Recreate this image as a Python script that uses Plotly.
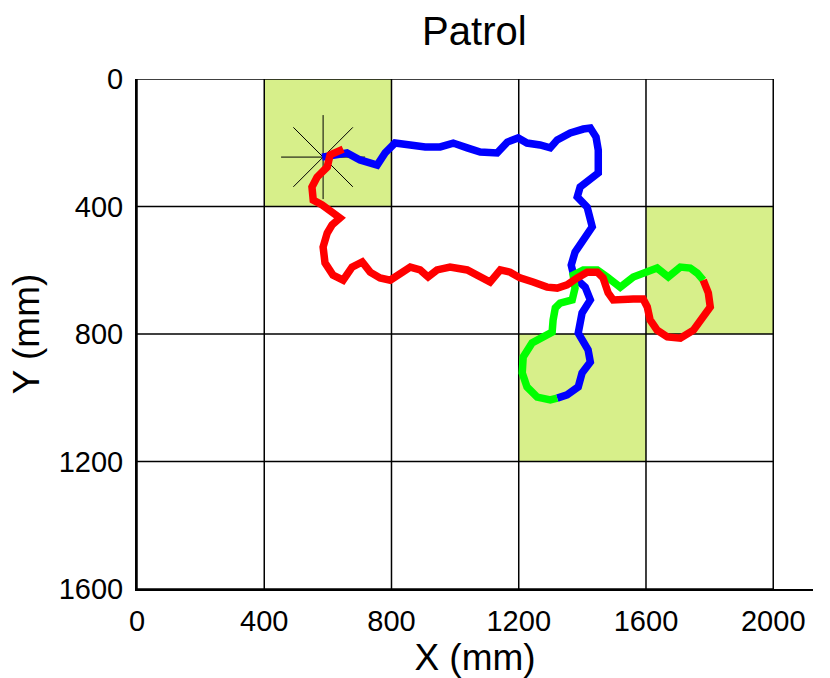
import plotly.graph_objects as go

# ---- data (mm) ----
grid_ticks_x = [0, 400, 800, 1200, 1600, 2000]
grid_ticks_y = [0, 400, 800, 1200, 1600]
tick_labels_x = ["0", "400", "800", "1200", "1600", "2000"]
tick_labels_y = ["0", "400", "800", "1200", "1600"]

# highlighted cells: (x0, x1, y0, y1)
cells_x0 = [400, 1600, 1200]
cells_x1 = [800, 2000, 1600]
cells_y0 = [0, 400, 800]
cells_y1 = [400, 800, 1200]

star_x = [585]
star_y = [245]

blue_x = [582, 623, 660, 701, 733, 755, 780, 811, 859, 906, 953, 994, 1038, 1079, 1132, 1164, 1198,
          1226, 1267, 1299, 1321, 1362, 1403, 1425, 1443, 1450, 1450, 1425, 1393, 1384, 1415, 1431,
          1403, 1377, 1365, 1374, 1409, 1425, 1399, 1387, 1418, 1425, 1399, 1387, 1352, 1321]
blue_y = [245, 235, 232, 254, 264, 270, 232, 201, 207, 213, 213, 201, 216, 229, 232, 198, 185,
          201, 207, 216, 191, 169, 157, 154, 182, 223, 295, 317, 339, 370, 402, 464,
          505, 543, 584, 621, 653, 693, 734, 797, 850, 888, 922, 966, 991, 1001]

green_x = [1321, 1299, 1258, 1226, 1211, 1214, 1242, 1277, 1305, 1308, 1315, 1330, 1368, 1377, 1371,
           1403, 1447, 1478, 1519, 1560, 1598, 1635, 1670, 1708, 1739, 1761, 1780]
green_y = [1001, 1007, 998, 966, 922, 872, 828, 809, 794, 756, 718, 703, 693, 656, 615,
           599, 599, 621, 653, 621, 606, 593, 621, 590, 593, 609, 631]

red_x = [1780, 1796, 1802, 1777, 1749, 1708, 1667, 1635, 1613, 1604, 1591, 1560, 1519, 1497, 1481,
         1465, 1447, 1415, 1384, 1352, 1321, 1289, 1245, 1204, 1173, 1142, 1110, 1079, 1038, 984,
         943, 915, 890, 859, 827, 796, 764, 733, 708, 676, 648, 616, 591, 585, 598, 613, 638,
         616, 582, 554, 550, 566, 598, 607, 629, 648]
red_y = [631, 671, 715, 747, 788, 813, 809, 788, 756, 715, 690, 690, 693, 693, 671,
         624, 606, 606, 624, 646, 656, 653, 637, 624, 606, 599, 637, 621, 599, 590,
         599, 621, 599, 590, 609, 631, 624, 606, 574, 590, 631, 615, 577, 527, 483, 458, 436,
         417, 395, 380, 339, 308, 276, 238, 229, 220]

FONT = "Liberation Sans, Arial, Helvetica, sans-serif"
CELL_COLOR = "#d7ef8a"

fig = go.Figure()

shapes = []
for x0, x1, y0, y1 in zip(cells_x0, cells_x1, cells_y0, cells_y1):
    shapes.append(dict(type="rect", xref="x", yref="y", x0=x0, x1=x1, y0=y0, y1=y1,
                       fillcolor=CELL_COLOR, line=dict(width=0), layer="below"))
for gx in grid_ticks_x:
    shapes.append(dict(type="line", xref="x", yref="y", x0=gx, x1=gx,
                       y0=grid_ticks_y[0], y1=grid_ticks_y[-1],
                       line=dict(color="black", width=1.5), layer="below"))
for gy in grid_ticks_y:
    shapes.append(dict(type="line", xref="x", yref="y", x0=grid_ticks_x[0], x1=grid_ticks_x[-1],
                       y0=gy, y1=gy, line=dict(color="black", width=1.5), layer="below"))

fig.add_trace(go.Scatter(x=star_x, y=star_y, mode="markers",
                         marker=dict(symbol="asterisk-open", size=70, color="black",
                                     line=dict(color="black", width=1)),
                         hoverinfo="skip"))
fig.add_trace(go.Scatter(x=blue_x, y=blue_y, mode="lines",
                         line=dict(color="#0000ff", width=7.5)))
fig.add_trace(go.Scatter(x=green_x, y=green_y, mode="lines",
                         line=dict(color="#00ff00", width=7.5)))
fig.add_trace(go.Scatter(x=red_x, y=red_y, mode="lines",
                         line=dict(color="#ff0000", width=7.5)))

fig.update_layout(
    width=830, height=678, autosize=False,
    margin=dict(l=137, r=17, t=79, b=89, autoexpand=False),
    paper_bgcolor="white", plot_bgcolor="white",
    showlegend=False,
    shapes=shapes,
    title=dict(text="Patrol", x=0.5715, xanchor="center", y=0.955, yanchor="middle",
               font=dict(family=FONT, size=40, color="black")),
    font=dict(family=FONT, color="black"),
)
fig.update_xaxes(range=[0, 2125], tickvals=grid_ticks_x, ticktext=tick_labels_x,
                 showgrid=False, zeroline=False, showline=True, linecolor="black", linewidth=2,
                 ticks="", ticklabelstandoff=5, tickfont=dict(size=29), automargin=False,
                 title=dict(text="X (mm)", font=dict(size=37), standoff=0))
fig.update_yaxes(range=[1600, 0], tickvals=grid_ticks_y, ticktext=tick_labels_y,
                 showgrid=False, zeroline=False, showline=True, linecolor="black", linewidth=2,
                 ticks="", ticklabelstandoff=6, tickfont=dict(size=29), automargin=False,
                 title=dict(text="Y (mm)", font=dict(size=37), standoff=8))

fig.write_html("out.html", post_script="document.body.style.margin='0';",
               config={"displayModeBar": False})
